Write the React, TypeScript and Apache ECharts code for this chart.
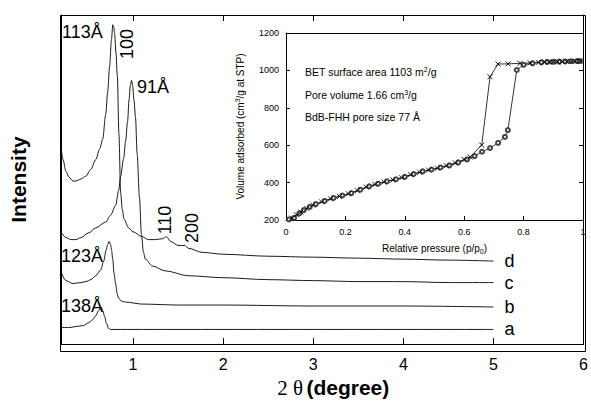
import React, { useEffect, useRef } from "react";
import * as echarts from "echarts";

// XRD patterns: [2θ (degree), intensity (a.u.)]
const xrdA: [number, number][] = [
  [0.2, 17], [0.3, 17], [0.365, 18], [0.45, 19], [0.509, 22], [0.55, 25], [0.586, 29], [0.615, 34],
  [0.645, 38], [0.665, 34], [0.685, 28], [0.705, 21], [0.729, 16], [0.751, 15], [1.0, 15], [2.0, 15],
  [3.0, 15], [4.0, 15], [5.0, 15],
];
const xrdB: [number, number][] = [
  [0.2, 74], [0.255, 65], [0.332, 62], [0.421, 63], [0.476, 64], [0.531, 66], [0.586, 70], [0.641, 76],
  [0.674, 85], [0.7, 96], [0.718, 102], [0.735, 105], [0.75, 102], [0.762, 96], [0.773, 88], [0.79, 72],
  [0.806, 62], [0.822, 52], [0.839, 47], [0.87, 44], [0.917, 43], [1.1, 41], [1.5, 40], [2.0, 40],
  [3.0, 39], [4.0, 39], [5.0, 38],
];
const xrdC: [number, number][] = [
  [0.2, 115], [0.255, 109], [0.31, 107], [0.365, 107], [0.42, 109], [0.509, 114], [0.586, 119],
  [0.696, 125], [0.75, 132], [0.806, 142], [0.839, 157], [0.862, 172], [0.895, 190], [0.917, 208],
  [0.939, 228], [0.955, 250], [0.97, 265], [0.983, 270], [0.995, 265], [1.01, 250], [1.027, 232],
  [1.045, 195], [1.071, 150], [1.093, 112], [1.115, 94], [1.137, 87], [1.214, 80], [1.358, 75],
  [1.611, 70], [2.0, 68], [2.5, 66], [3.0, 65], [3.5, 64], [4.0, 64], [4.5, 63], [5.0, 63],
];
const xrdD: [number, number][] = [
  [0.2, 202], [0.222, 189], [0.255, 177], [0.288, 171], [0.332, 167], [0.365, 167], [0.421, 169],
  [0.476, 172], [0.531, 179], [0.586, 189], [0.63, 200], [0.663, 210], [0.696, 235], [0.718, 258],
  [0.74, 285], [0.76, 312], [0.775, 327], [0.785, 325], [0.795, 318], [0.81, 298], [0.825, 275],
  [0.843, 215], [0.862, 155], [0.88, 138], [0.9, 128], [0.95, 119], [1.0, 115], [1.1, 110],
  [1.17, 107], [1.25, 107], [1.33, 108], [1.37, 110], [1.42, 105], [1.5, 101], [1.57, 101],
  [1.62, 98], [1.76, 94], [2.0, 92], [2.5, 90], [3.0, 89], [3.5, 88], [4.0, 87], [4.5, 86], [5.0, 85],
];

// N2 isotherm: [relative pressure p/p0, volume adsorbed cm3/g STP]
const isoAdsorption: [number, number][] = [
  [0.01, 203], [0.027, 211], [0.045, 235], [0.06, 253], [0.08, 270], [0.1, 285], [0.13, 302],
  [0.16, 318], [0.19, 331], [0.22, 344], [0.25, 362], [0.28, 380], [0.31, 394], [0.34, 407],
  [0.37, 418], [0.4, 431], [0.43, 446], [0.46, 460], [0.49, 470], [0.52, 481], [0.55, 492],
  [0.58, 508], [0.61, 524], [0.635, 542], [0.66, 565], [0.687, 585], [0.714, 612], [0.737, 644],
  [0.747, 681], [0.777, 1002], [0.8, 1030], [0.83, 1038], [0.86, 1043], [0.88, 1045], [0.9, 1046],
  [0.92, 1047], [0.94, 1048], [0.96, 1049], [0.98, 1050], [0.99, 1050],
];
const isoDesorption: [number, number][] = [
  [0.99, 1050], [0.975, 1049], [0.96, 1048], [0.945, 1048], [0.93, 1047], [0.915, 1046], [0.9, 1046],
  [0.885, 1045], [0.87, 1045], [0.85, 1043], [0.822, 1040], [0.788, 1038], [0.748, 1035], [0.714, 1034],
  [0.687, 966], [0.659, 601], [0.62, 537], [0.6, 524], [0.57, 505], [0.54, 490], [0.51, 477],
  [0.48, 467], [0.45, 455], [0.42, 442], [0.39, 427], [0.36, 414], [0.33, 403], [0.3, 390],
  [0.27, 376], [0.24, 357], [0.21, 340], [0.18, 326], [0.15, 313], [0.12, 297], [0.09, 280],
  [0.07, 262], [0.05, 243], [0.035, 228], [0.02, 210],
];

const mainXTicks = [1, 2, 3, 4, 5];
const mainXLabels = [1, 2, 3, 4, 5, 6];
const sampleNames = ["a", "b", "c", "d"];

const SANS = "Liberation Sans, Arial, Helvetica, sans-serif";
const SERIF = "Liberation Serif, Times New Roman, serif";
const frameLine = { show: true, onZero: false, lineStyle: { color: "#000", width: 1 } };

export default function App() {
  const ref = useRef<HTMLDivElement>(null);
  useEffect(() => {
    const chart = echarts.init(ref.current!, null, { renderer: "svg" });
    const xrdSeries = [xrdA, xrdB, xrdC, xrdD].map((d, i) => ({
      type: "line",
      name: sampleNames[i],
      xAxisIndex: 0,
      yAxisIndex: 0,
      data: d,
      showSymbol: false,
      smooth: 0.3,
      smoothMonotone: "x",
      lineStyle: { color: "#000", width: 0.9 },
      endLabel: {
        show: true,
        formatter: sampleNames[i],
        fontSize: 18,
        fontFamily: SANS,
        color: "#000",
        distance: 11,
      },
    }));
    chart.setOption({
      animation: false,
      backgroundColor: "#fff",
      grid: [
        { left: 60, top: 15, right: 5, bottom: 51 },
        { left: 286, top: 33, right: 8, bottom: 183 },
      ],
      xAxis: [
        {
          type: "value", gridIndex: 0, min: 0.2, max: 6, position: "bottom",
          axisLine: frameLine, splitLine: { show: false },
          axisTick: { inside: true, length: 6, customValues: mainXTicks, lineStyle: { color: "#000" } },
          axisLabel: { customValues: mainXLabels, fontSize: 16, color: "#000", margin: 12, fontFamily: SANS },
          name: "{n|2 θ} {b|(degree)}",
          nameLocation: "middle",
          nameGap: 31,
          nameTextStyle: {
            color: "#000",
            padding: [0, 0, 0, 22],
            rich: {
              n: { fontFamily: SERIF, fontSize: 21, color: "#000" },
              b: { fontFamily: SANS, fontSize: 21, fontWeight: "bold", color: "#000" },
            },
          },
        },
        {
          type: "value", gridIndex: 0, min: 0.2, max: 6, position: "top",
          axisLine: frameLine, splitLine: { show: false },
          axisTick: { inside: true, length: 6, customValues: mainXTicks, lineStyle: { color: "#000" } },
          axisLabel: { show: false },
        },
        {
          type: "value", gridIndex: 1, min: 0, max: 1, interval: 0.2, position: "bottom",
          axisLine: frameLine, splitLine: { show: false },
          axisTick: { inside: true, length: 4, lineStyle: { color: "#000" } },
          axisLabel: {
            fontSize: 9, color: "#000", margin: 7, fontFamily: SANS,
            formatter: (v: number) => (v === 0 ? "0" : v === 1 ? "1" : v.toFixed(1)),
          },
          name: "Relative pressure (p/p{sub|0})",
          nameLocation: "middle",
          nameGap: 22,
          nameTextStyle: {
            fontSize: 10, color: "#000", fontFamily: SANS,
            rich: { sub: { fontSize: 7, verticalAlign: "bottom", color: "#000", fontFamily: SANS, padding: [6, 0, 0, 0] } },
          },
        },
        {
          type: "value", gridIndex: 1, min: 0, max: 1, interval: 0.2, position: "top",
          axisLine: frameLine, splitLine: { show: false },
          axisTick: { show: false }, axisLabel: { show: false },
        },
      ],
      yAxis: [
        {
          type: "value", gridIndex: 0, min: 0, max: 337, position: "left",
          axisLine: frameLine, axisTick: { show: false }, axisLabel: { show: false },
          splitLine: { show: false },
          name: "Intensity",
          nameLocation: "middle",
          nameGap: 32,
          nameTextStyle: { fontSize: 21, fontWeight: "bold", color: "#000", fontFamily: SANS },
        },
        {
          type: "value", gridIndex: 0, min: 0, max: 337, position: "right",
          axisLine: frameLine, axisTick: { show: false }, axisLabel: { show: false },
          splitLine: { show: false },
        },
        {
          type: "value", gridIndex: 1, min: 200, max: 1200, interval: 200, position: "left",
          axisLine: frameLine, splitLine: { show: false },
          axisTick: { inside: true, length: 4, lineStyle: { color: "#000" } },
          axisLabel: { fontSize: 9, color: "#000", margin: 7, fontFamily: SANS, formatter: (v: number) => String(v) },
          name: "Volume adsorbed (cm{sup|3}/g at STP)",
          nameLocation: "middle",
          nameGap: 40,
          nameTextStyle: {
            fontSize: 10, color: "#000", fontFamily: SANS,
            rich: { sup: { fontSize: 7, verticalAlign: "top", color: "#000", fontFamily: SANS, padding: [0, 0, 5, 0] } },
          },
        },
        {
          type: "value", gridIndex: 1, min: 200, max: 1200, interval: 200, position: "right",
          axisLine: frameLine, splitLine: { show: false },
          axisTick: { inside: true, length: 4, lineStyle: { color: "#000" } },
          axisLabel: { show: false },
        },
      ],
      series: [
        ...xrdSeries,
        {
          type: "line", name: "adsorption", xAxisIndex: 2, yAxisIndex: 2, data: isoAdsorption,
          symbol: "emptyCircle", symbolSize: 4,
          itemStyle: { color: "#444", borderWidth: 0.6 },
          lineStyle: { color: "#000", width: 0.8 },
        },
        {
          type: "line", name: "desorption", xAxisIndex: 2, yAxisIndex: 2, data: isoDesorption,
          symbol: "path://M0,0L10,10M10,0L0,10", symbolSize: 5,
          itemStyle: { color: "none", borderColor: "#000", borderWidth: 0.9 },
          lineStyle: { color: "#000", width: 0.8 },
          z: 3,
        },
      ],
      graphic: [
        { type: "rect", z: 100, silent: true, shape: { x: 60.5, y: 15.5, width: 525, height: 336 }, style: { fill: "none", stroke: "#000", lineWidth: 1 } },
        { type: "text", x: 305, y: 72, style: { text: "BET surface area 1103 m{sup|2}/g", fontSize: 10.5, fontFamily: SANS, fill: "#000", verticalAlign: "middle", rich: { sup: { fontSize: 7, verticalAlign: "top", fill: "#000", padding: [0, 0, 5, 0] } } } },
        { type: "text", x: 305, y: 95, style: { text: "Pore volume 1.66 cm{sup|3}/g", fontSize: 10.5, fontFamily: SANS, fill: "#000", verticalAlign: "middle", rich: { sup: { fontSize: 7, verticalAlign: "top", fill: "#000", padding: [0, 0, 5, 0] } } } },
        { type: "text", x: 305, y: 117, style: { text: "BdB-FHH pore size 77 Å", fontSize: 10.5, fontFamily: SANS, fill: "#000", verticalAlign: "middle" } },
        { type: "text", x: 62, y: 32, style: { text: "113Å", fontSize: 18, fontFamily: SANS, fill: "#000", verticalAlign: "middle" } },
        { type: "text", x: 137, y: 87, style: { text: "91Å", fontSize: 18, fontFamily: SANS, fill: "#000", verticalAlign: "middle" } },
        { type: "text", x: 61, y: 256, style: { text: "123Å", fontSize: 18, fontFamily: SANS, fill: "#000", verticalAlign: "middle" } },
        { type: "text", x: 61, y: 306, style: { text: "138Å", fontSize: 18, fontFamily: SANS, fill: "#000", verticalAlign: "middle" } },
        { type: "text", x: 127, y: 44, rotation: Math.PI / 2, style: { text: "100", fontSize: 18, fontFamily: SANS, fill: "#000", align: "center", verticalAlign: "middle" } },
        { type: "text", x: 165, y: 220, rotation: Math.PI / 2, style: { text: "110", fontSize: 18, fontFamily: SANS, fill: "#000", align: "center", verticalAlign: "middle" } },
        { type: "text", x: 192, y: 228, rotation: Math.PI / 2, style: { text: "200", fontSize: 18, fontFamily: SANS, fill: "#000", align: "center", verticalAlign: "middle" } },
      ],
    });
    return () => chart.dispose();
  }, []);
  return (
    <div
      ref={ref}
      style={{ position: "absolute", left: 0, top: 0, width: 591, height: 403, background: "#fff" }}
    />
  );
}
